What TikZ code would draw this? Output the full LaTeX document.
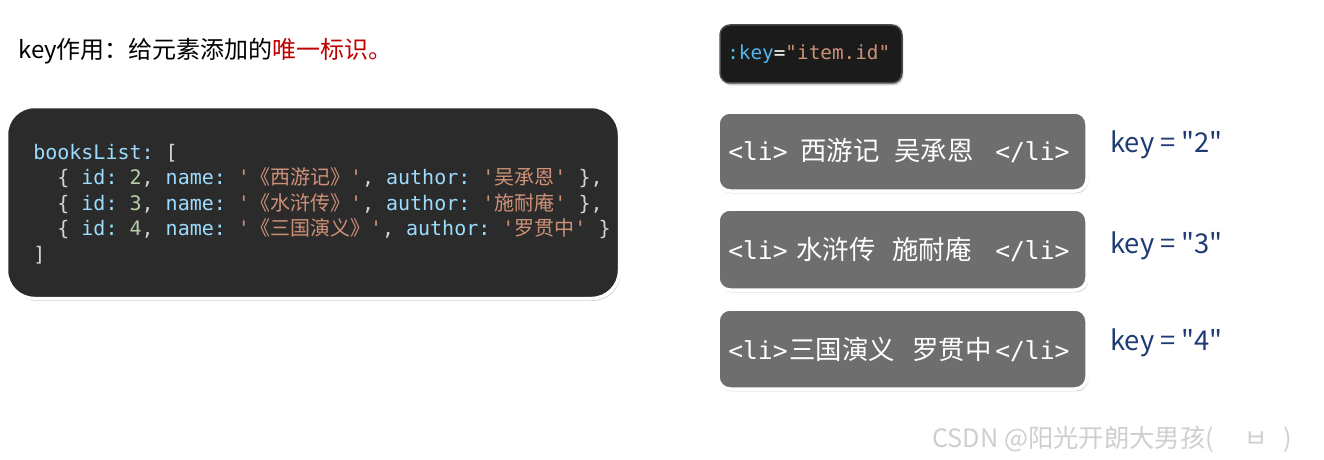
\documentclass[tikz,border=0pt]{standalone}
\usepackage{fontspec}
\setmainfont{Noto Sans CJK SC}
\setmonofont{DejaVu Sans Mono}
\newfontfamily\cjk{Noto Sans CJK SC}
\usetikzlibrary{shadows}
\definecolor{codebg}{HTML}{2B2B2B}
\definecolor{keybg}{HTML}{1B1B1B}
\definecolor{libg}{HTML}{6E6E6E}
\definecolor{ckey}{HTML}{9CDCFE}
\definecolor{cnum}{HTML}{B5CEA8}
\definecolor{cstr}{HTML}{CE9178}
\definecolor{cpun}{HTML}{D4D4D4}
\definecolor{ckey2}{HTML}{4FB8F0}
\definecolor{navy}{HTML}{1F3B73}
\definecolor{titlered}{HTML}{C00000}
\definecolor{wm}{HTML}{CFCFCF}
\newlength\px
\setlength\px{0.75pt}
\newcommand\myK[1]{\textcolor{ckey}{#1}}
\newcommand\myN[1]{\textcolor{cnum}{#1}}
\newcommand\myS[1]{\textcolor{cstr}{#1}}
\newcommand\myP[1]{\textcolor{cpun}{#1}}
\newcommand\seg[2]{\makebox[#1\px][l]{#2}}
\tikzset{
  codeline/.style={anchor=base west, inner sep=0pt, font=\ttfamily\fontsize{15}{18}\selectfont},
  litext/.style={anchor=base west, inner sep=0pt, text=white, font=\ttfamily\fontsize{18.5}{22}\selectfont},
  keylabel/.style={anchor=base west, inner sep=0pt, text=navy, font=\cjk\fontsize{20.5}{24}\selectfont},
  whitebox/.style={draw=white, line width=3.5\px, drop shadow={shadow xshift=1pt, shadow yshift=-1.8pt, opacity=0.35}},
}
\newcommand\lic[1]{{\cjk\fontsize{19.8}{22}\selectfont #1}}
\begin{document}
\begin{tikzpicture}[x=0.75pt,y=-0.75pt]
\useasboundingbox[fill=white] (0,0) rectangle (1324,460);

% title
\node[anchor=base west, inner sep=0pt, font=\fontsize{18}{21}\selectfont] (title) at (18,59)
  {key作用：给元素添加的\textcolor{titlered}{唯一标识。}};

% code box
\path[whitebox, fill=codebg, rounded corners=21pt] (6.5,106.5) rectangle (619.5,298.5);
\node[codeline] (c1) at (33,159) {\myK{booksList:} \myP{[}};
\node[codeline] (c2) at (33,184.5) {\myP{\hphantom{xx}\{} \myK{id:} \myN{2}\myP{,} \myK{name:} \myS{'{\cjk 《西游记》}'}\myP{,} \myK{author:} \myS{'{\cjk 吴承恩}'} \myP{\},}};
\node[codeline] (c3) at (33,210) {\myP{\hphantom{xx}\{} \myK{id:} \myN{3}\myP{,} \myK{name:} \myS{'{\cjk 《水浒传》}'}\myP{,} \myK{author:} \myS{'{\cjk 施耐庵}'} \myP{\},}};
\node[codeline] (c4) at (33,235.5) {\myP{\hphantom{xx}\{} \myK{id:} \myN{4}\myP{,} \myK{name:} \myS{'{\cjk 《三国演义》}'}\myP{,} \myK{author:} \myS{'{\cjk 罗贯中}'} \myP{\}}};
\node[codeline] (c5) at (33,261) {\myP{]}};

% key box
\path[draw=gray!60!black, line width=1.5\px, fill=keybg, rounded corners=7.5pt,
  drop shadow={shadow xshift=1pt, shadow yshift=-1.8pt, opacity=0.4}] (720,25) rectangle (902,83);
\node[anchor=base west, inner sep=0pt, font=\ttfamily\fontsize{14.5}{17}\selectfont] (keyattr) at (727,60)
  {\textcolor{ckey2}{:key}\textcolor{white}{=}\myS{"item.id"}};

% li boxes
\path[whitebox, fill=libg, rounded corners=9pt] (718,112) rectangle (1087,191);
\path[whitebox, fill=libg, rounded corners=9pt] (718,209) rectangle (1087,290);
\path[whitebox, fill=libg, rounded corners=9pt] (718,309) rectangle (1087,389);

\node[litext] (li1) at (728,160) {\seg{72}{<li>}\seg{94}{\lic{西游记}}\seg{101}{\lic{吴承恩}}</li>};
\node[litext] (li2) at (728,259) {\seg{68}{<li>}\seg{96}{\lic{水浒传}}\seg{103}{\lic{施耐庵}}</li>};
\node[litext] (li3) at (728,359) {\seg{61}{<li>}\seg{123}{\lic{三国演义}}\seg{83}{\lic{罗贯中}}</li>};

% key labels
\node[keylabel] (k2) at (1110,152) {key = "2"};
\node[keylabel] (k3) at (1110,253) {key = "3"};
\node[keylabel] (k4) at (1110,350) {key = "4"};

% watermark
\node[anchor=base west, inner sep=0pt, text=wm, font=\fontsize{19}{22}\selectfont] (wm) at (932,447)
  {CSDN @阳光开朗大男孩(\hspace{30\px}ㅂ\hspace{16\px})};
\end{tikzpicture}
\end{document}
